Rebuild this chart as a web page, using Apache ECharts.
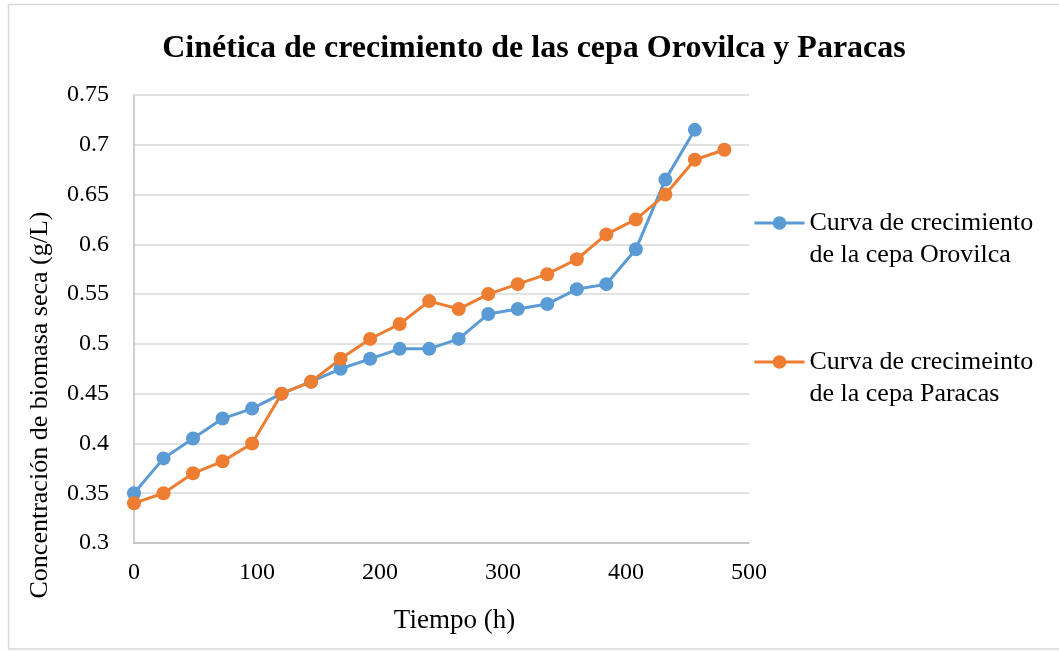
<!DOCTYPE html>
<html>
<head>
<meta charset="utf-8">
<script src="https://cdn.jsdelivr.net/npm/echarts@6/dist/echarts.min.js"></script>
<style>html,body{margin:0;padding:0;background:#fff}#c{width:1059px;height:651px}</style>
</head>
<body>
<div id="c"></div>
<script>
const hoursOrovilca = [0,24,48,72,96,120,144,168,192,216,240,264,288,312,336,360,384,408,432,456];
const orovilca = [0.35,0.385,0.405,0.425,0.435,0.45,0.462,0.475,0.485,0.495,0.495,0.505,0.53,0.535,0.54,0.555,0.56,0.595,0.665,0.715];
const hoursParacas = [0,24,48,72,96,120,144,168,192,216,240,264,288,312,336,360,384,408,432,456,480];
const paracas = [0.34,0.35,0.37,0.382,0.40,0.45,0.462,0.485,0.505,0.52,0.543,0.535,0.55,0.56,0.57,0.585,0.61,0.625,0.65,0.685,0.695];
const nameOrovilca = 'Curva de crecimiento de la cepa Orovilca';
const nameParacas = 'Curva de crecimeinto de la cepa Paracas';
const legendLines = {};
legendLines[nameOrovilca] = ' \nCurva de crecimiento\nde la cepa Orovilca';
legendLines[nameParacas] = ' \nCurva de crecimeinto\nde la cepa Paracas';

const font = '"Liberation Serif", "Times New Roman", serif';
const chart = echarts.init(document.getElementById('c'), null, {renderer:'canvas'});
const legendText = {fontFamily: font, fontSize: 26, color: '#000', lineHeight: 32};
const legendBase = {orient:'vertical', left:748, itemWidth:50, itemHeight:17, lineStyle:{width:3}, formatter: n => legendLines[n], textStyle: legendText};
chart.setOption({
  animation: false,
  backgroundColor: '#fff',
  graphic: [{type:'rect', shape:{x:8.5,y:4.5,width:1060,height:644.5}, style:{fill:'none', stroke:'#d9d9d9', lineWidth:1.5}, z:-1}],
  title: {text: 'Cinética de crecimiento de las cepa Orovilca y Paracas', left: 529, top: 28, textAlign: 'center',
    textStyle: {fontFamily: font, fontSize: 32, fontWeight: 'bold', color: '#000'}},
  grid: {left: 134, right: 310, top: 95, bottom: 108},
  legend: [
    Object.assign({data:[nameOrovilca], top:170}, legendBase),
    Object.assign({data:[nameParacas], top:309}, legendBase)
  ],
  xAxis: {type:'value', min:0, max:500, interval:100,
    name:'Tiempo (h)', nameLocation:'middle', nameGap:64,
    nameTextStyle:{fontFamily:font, fontSize:27, color:'#000', padding:[0,0,0,26]},
    axisLine:{show:true, lineStyle:{color:'#bfbfbf', width:1.5}},
    axisTick:{show:false},
    axisLabel:{fontFamily:font, fontSize:24, color:'#000', margin:18},
    splitLine:{show:false}},
  yAxis: {type:'value', min:0.3, max:0.75, interval:0.05,
    name:'Concentración de biomasa seca (g/L)', nameLocation:'middle', nameGap:81,
    nameTextStyle:{fontFamily:font, fontSize:26, color:'#000', padding:[0,172,0,0]},
    axisLine:{show:true, lineStyle:{color:'#bfbfbf', width:1.5}},
    axisTick:{show:false},
    axisLabel:{fontFamily:font, fontSize:24, color:'#000', margin:25, formatter: v => String(parseFloat(v.toFixed(2)))},
    splitLine:{show:true, lineStyle:{color:'#d9d9d9', width:1.5}}},
  series: [
    {name:nameOrovilca, type:'line', data: hoursOrovilca.map((h,i)=>[h, orovilca[i]]),
      symbol:'circle', symbolSize:14, color:'#5B9BD5', lineStyle:{width:3, color:'#5B9BD5'}, itemStyle:{color:'#5B9BD5'}},
    {name:nameParacas, type:'line', data: hoursParacas.map((h,i)=>[h, paracas[i]]),
      symbol:'circle', symbolSize:14, color:'#ED7D31', lineStyle:{width:3, color:'#ED7D31'}, itemStyle:{color:'#ED7D31'}}
  ]
});
</script>
</body>
</html>
